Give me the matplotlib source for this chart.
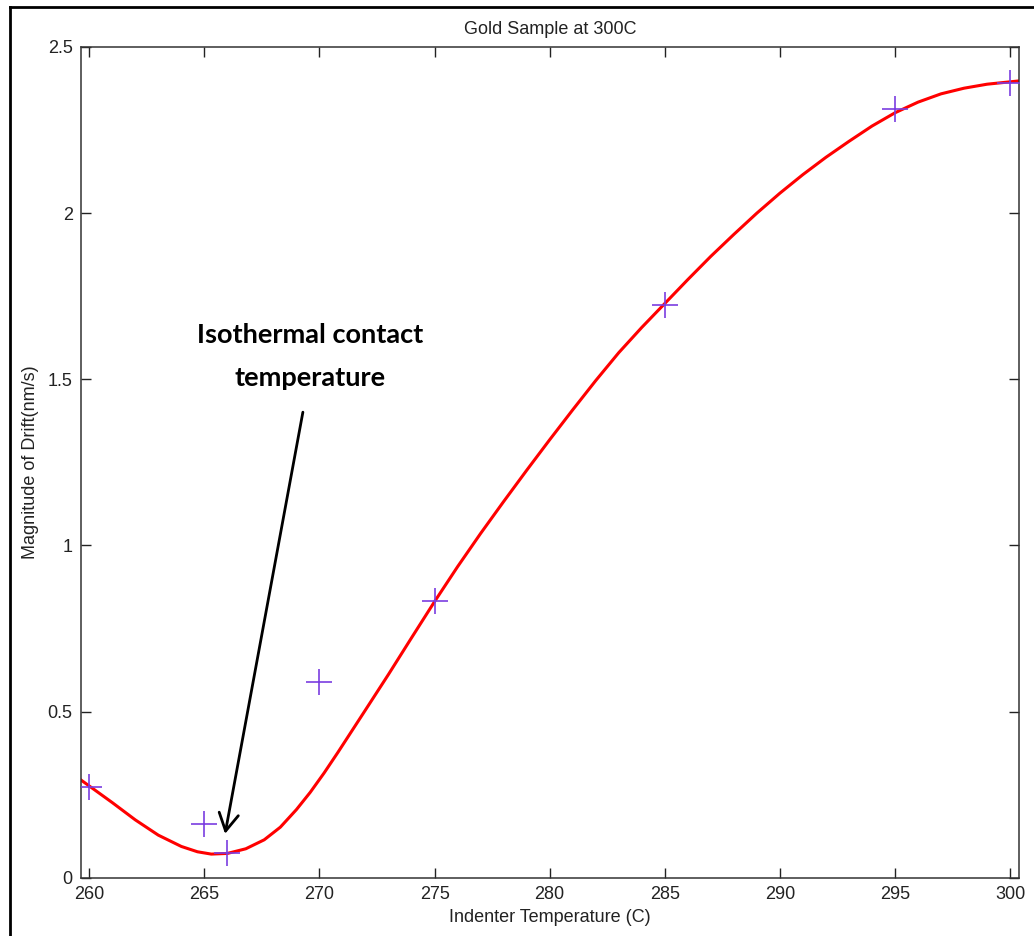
import matplotlib
matplotlib.use('Agg')
import matplotlib.pyplot as plt
from matplotlib.lines import Line2D

# measured points
temps = [260, 265, 266, 270, 275, 285, 295, 300]
drift = [0.273, 0.162, 0.073, 0.590, 0.832, 1.723, 2.313, 2.393]

# fitted curve
fit_t = [259.64, 260.0, 261.0, 262.0, 263.0, 264.0, 264.7, 265.3, 266.0, 266.8,
         267.6, 268.3, 269.0, 269.6, 270.2, 270.8, 271.4, 272.0, 273.0, 274.0,
         275.0, 276.0, 277.0, 278.0, 279.0, 280.0, 281.0, 282.0, 283.0, 284.0,
         285.0, 286.0, 287.0, 288.0, 289.0, 290.0, 291.0, 292.0, 293.0, 294.0,
         295.0, 296.0, 297.0, 298.0, 299.0, 300.4]
fit_v = [0.294, 0.276, 0.226, 0.174, 0.128, 0.094, 0.078, 0.071, 0.073, 0.087,
         0.114, 0.152, 0.205, 0.257, 0.315, 0.377, 0.441, 0.505, 0.612, 0.722,
         0.831, 0.936, 1.036, 1.132, 1.226, 1.318, 1.408, 1.496, 1.580, 1.656,
         1.728, 1.800, 1.870, 1.936, 2.000, 2.060, 2.116, 2.168, 2.216, 2.262,
         2.302, 2.334, 2.359, 2.376, 2.388, 2.398]

xticks = [260, 265, 270, 275, 280, 285, 290, 295, 300]
yticks = [0, 0.5, 1, 1.5, 2, 2.5]
ytick_labels = ['0', '0.5', '1', '1.5', '2', '2.5']

plt.rcParams['font.family'] = ['Liberation Sans', 'DejaVu Sans']

fig = plt.figure(figsize=(10.34, 9.36), dpi=100)
ax = fig.add_axes([0.0783, 0.0623, 0.9075, 0.8875])

ax.plot(fit_t, fit_v, color='red', lw=2.2, zorder=2)
ax.plot(temps, drift, ls='none', marker='+', ms=19, mew=1.2, color='#7a3de0', zorder=3)

ax.set_xlim(259.64, 300.4)
ax.set_ylim(0, 2.5)
ax.set_xticks(xticks)
ax.set_yticks(yticks)
ax.set_yticklabels(ytick_labels)
ax.tick_params(direction='in', length=7, width=1, top=True, right=True,
               labelsize=13, colors='#222222', pad=6)
for s in ax.spines.values():
    s.set_color('#333333')
    s.set_linewidth(1.1)

ax.set_title('Gold Sample at 300C', fontsize=13, pad=9, color='#222222')
ax.set_xlabel('Indenter Temperature (C)', fontsize=13, labelpad=4, color='#222222')
ax.set_ylabel('Magnitude of Drift(nm/s)', fontsize=13, labelpad=6, color='#222222')

# annotation
ax.text(269.59, 1.633, 'Isothermal contact', ha='center', va='center',
        fontsize=19.5, fontweight='bold', family=['Lato', 'DejaVu Sans'])
ax.text(269.59, 1.504, 'temperature', ha='center', va='center',
        fontsize=19.5, fontweight='bold', family=['Lato', 'DejaVu Sans'])
ax.annotate('', xy=(265.9, 0.132), xytext=(269.28, 1.401),
            arrowprops=dict(arrowstyle='->,head_length=1.25,head_width=0.7',
                            color='black', lw=2, shrinkA=0, shrinkB=0))

# outer frame
fig.add_artist(Line2D([10/1034, 10/1034], [0, 1 - 7/936], color='black', lw=2,
                      transform=fig.transFigure))
fig.add_artist(Line2D([10/1034, 1], [1 - 7/936, 1 - 7/936], color='black', lw=2,
                      transform=fig.transFigure))

fig.savefig('out.png', dpi=100)
